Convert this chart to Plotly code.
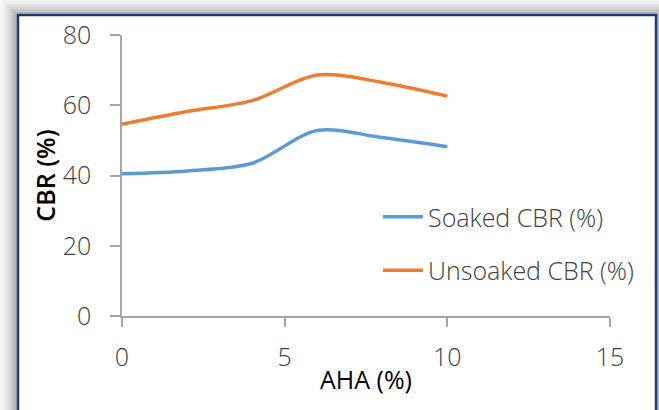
import plotly.graph_objects as go

# AHA content (%) and measured CBR values
aha = [0, 2, 4, 6, 8, 10]
soaked_cbr = [40.5, 41.3, 43.5, 52.8, 50.8, 48.2]
unsoaked_cbr = [54.6, 58.2, 61.3, 68.6, 66.5, 62.6]

x_ticks = [0, 5, 10, 15]
y_ticks = [0, 20, 40, 60, 80]

W, H = 659, 410
L, R, T, B = 122, 49, 35, 94
pw, ph = W - L - R, H - T - B


def px(x):
    return (x - L) / pw


def py(y):
    return (H - B - y) / ph


fig = go.Figure()
fig.add_trace(go.Scatter(
    x=aha, y=soaked_cbr, name="Soaked CBR (%)", mode="lines",
    line=dict(color="#5B9BD5", width=3.5, shape="spline", smoothing=0.9),
    legendgroup="a",
))
fig.add_trace(go.Scatter(
    x=aha, y=unsoaked_cbr, name="Unsoaked CBR (%)", mode="lines",
    line=dict(color="#ED7D31", width=3.5, shape="spline", smoothing=0.9),
    legendgroup="b",
))

shapes = []
# soft drop shadow around the chart frame
shades = ["#f4f4f4", "#ececec", "#e2e2e2", "#d6d6d6", "#c8c8c8", "#b8b8b8"]
for i, c in enumerate(shades):
    off = 16 - i * 2.5
    shapes.append(dict(type="rect", xref="paper", yref="paper",
                       x0=px(17 - off), x1=px(W + 5), y0=py(H + 5), y1=py(15 - off),
                       fillcolor=c, line_width=0, layer="below"))
# white chart area with dark frame
shapes.append(dict(type="rect", xref="paper", yref="paper",
                   x0=px(18), x1=px(656), y0=py(H + 5), y1=py(15),
                   fillcolor="white", line=dict(color="#1F3C72", width=2.5),
                   layer="below"))

tick_font = dict(family="Open Sans", size=25, color="#404040", weight=300)

fig.update_layout(
    width=W, height=H,
    margin=dict(l=L, r=R, t=T, b=B),
    paper_bgcolor="#f4f4f4",
    plot_bgcolor="rgba(0,0,0,0)",
    shapes=shapes,
    showlegend=True,
    legend=dict(
        x=px(378), y=py(194), xanchor="left", yanchor="top",
        bgcolor="rgba(0,0,0,0)",
        font=dict(family="Open Sans", size=25, color="#404040", weight=300),
        tracegroupgap=18, traceorder="grouped",
        itemwidth=40,
    ),
    xaxis=dict(
        range=[0, 15], tickvals=x_ticks, ticktext=[str(v) for v in x_ticks],
        showline=True, linecolor="#A6A6A6", linewidth=1.5,
        ticks="outside", ticklen=9, tickcolor="#A6A6A6", tickwidth=1.5,
        showgrid=False, zeroline=False,
        tickfont=tick_font, ticklabelstandoff=9,
        title=dict(text="AHA (%)", font=dict(family="Open Sans", size=25, color="#000000"),
                   standoff=0),
    ),
    yaxis=dict(
        range=[0, 80], tickvals=y_ticks, ticktext=[str(v) for v in y_ticks],
        showline=True, linecolor="#A6A6A6", linewidth=1.5,
        ticks="outside", ticklen=10, tickcolor="#A6A6A6", tickwidth=1.5,
        showgrid=False, zeroline=False,
        tickfont=tick_font, ticklabelstandoff=14,
        title=dict(text="CBR (%)", font=dict(family="Open Sans", size=25, color="#000000", weight=600),
                   standoff=0),
    ),
)

fig.write_html("out.html")
